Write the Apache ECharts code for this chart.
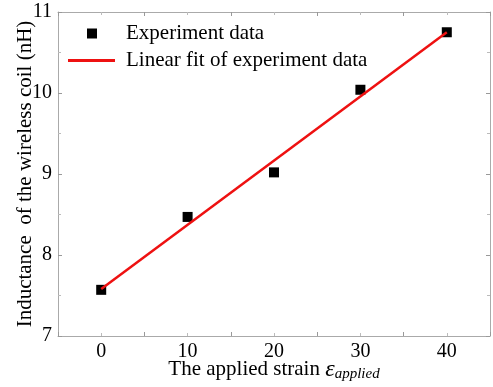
<!DOCTYPE html>
<html><head><meta charset="utf-8">
<script src="https://cdn.jsdelivr.net/npm/echarts@6/dist/echarts.min.js"></script>
<style>html,body{margin:0;padding:0;background:#fff}#c{width:493px;height:387px}</style>
</head><body><div id="c"></div>
<script>
var strain = [0, 10, 20, 30, 40];
var inductance = [7.57, 8.47, 9.02, 10.04, 10.75];
var fitStrain = [0, 40];
var fitInductance = [7.58, 10.75];
var xTicks = [0, 10, 20, 30, 40];
var yTicks = [7, 8, 9, 10, 11];

var font = 'Liberation Serif';
var chart = echarts.init(document.getElementById('c'));
function axisCommon() {
  return {
    axisLine: {show: true, onZero: false, lineStyle: {color: '#aaa', width: 1}},
    axisTick: {show: true, inside: true, length: 4, lineStyle: {color: '#999'}},
    minorTick: {show: true, splitNumber: 2, length: 3, lineStyle: {color: '#bbb'}},
    splitLine: {show: false}
  };
}
chart.setOption({
  animation: false,
  grid: {left: 58, right: 3, top: 12, bottom: 51, containLabel: false, outerBoundsMode: 'none'},
  legend: [{
    left: 87, top: 23, padding: 0, itemWidth: 10, itemHeight: 10,
    data: [{name: 'Experiment data', icon: 'rect'}],
    textStyle: {fontFamily: font, fontSize: 21, color: '#000', padding: [0, 0, 0, 24]}
  }, {
    left: 68, top: 50, padding: 0, itemWidth: 47, itemHeight: 3,
    data: [{name: 'Linear fit of experiment data', icon: 'rect', itemStyle: {color: '#ee1111'}}],
    textStyle: {fontFamily: font, fontSize: 21, color: '#000', padding: [0, 0, 0, 6]}
  }],
  xAxis: [Object.assign(axisCommon(), {
    type: 'value', min: -5, max: 45, interval: 10,
    axisLabel: {fontFamily: font, fontSize: 20, color: '#000', margin: 6,
      customValues: xTicks},
    name: '{n|The applied strain }{e|ε}{s|applied}',
    nameLocation: 'middle', nameGap: 21, nameMoveOverlap: false,
    nameTextStyle: {rich: {
      n: {fontFamily: font, fontSize: 21, color: '#000'},
      e: {fontFamily: font, fontSize: 24, fontStyle: 'italic', color: '#000'},
      s: {fontFamily: font, fontSize: 15, fontStyle: 'italic', color: '#000', padding: [10, 0, 0, 0]}
    }}
  }), Object.assign(axisCommon(), {
    type: 'value', position: 'top', min: -5, max: 45, interval: 10,
    axisLabel: {show: false}
  })],
  yAxis: [Object.assign(axisCommon(), {
    type: 'value', min: 7, max: 11, interval: 1,
    axisLabel: {fontFamily: font, fontSize: 20, color: '#000', margin: 6, customValues: yTicks},
    name: 'Inductance  of the wireless coil (nH)',
    nameLocation: 'middle', nameGap: 22, nameMoveOverlap: false,
    nameTextStyle: {fontFamily: font, fontSize: 21, color: '#000'}
  }), Object.assign(axisCommon(), {
    type: 'value', position: 'right', min: 7, max: 11, interval: 1,
    axisLabel: {show: false}
  })],
  series: [{
    name: 'Linear fit of experiment data', type: 'line',
    data: fitStrain.map(function (x, i) { return [x, fitInductance[i]]; }),
    showSymbol: false, symbol: 'none',
    lineStyle: {color: '#ee1111', width: 2.5},
    itemStyle: {color: '#ee1111'}, z: 3
  }, {
    name: 'Experiment data', type: 'scatter', symbol: 'rect', symbolSize: 10,
    data: strain.map(function (x, i) { return [x, inductance[i]]; }),
    itemStyle: {color: '#000', opacity: 1}, z: 2
  }]
});
</script></body></html>
